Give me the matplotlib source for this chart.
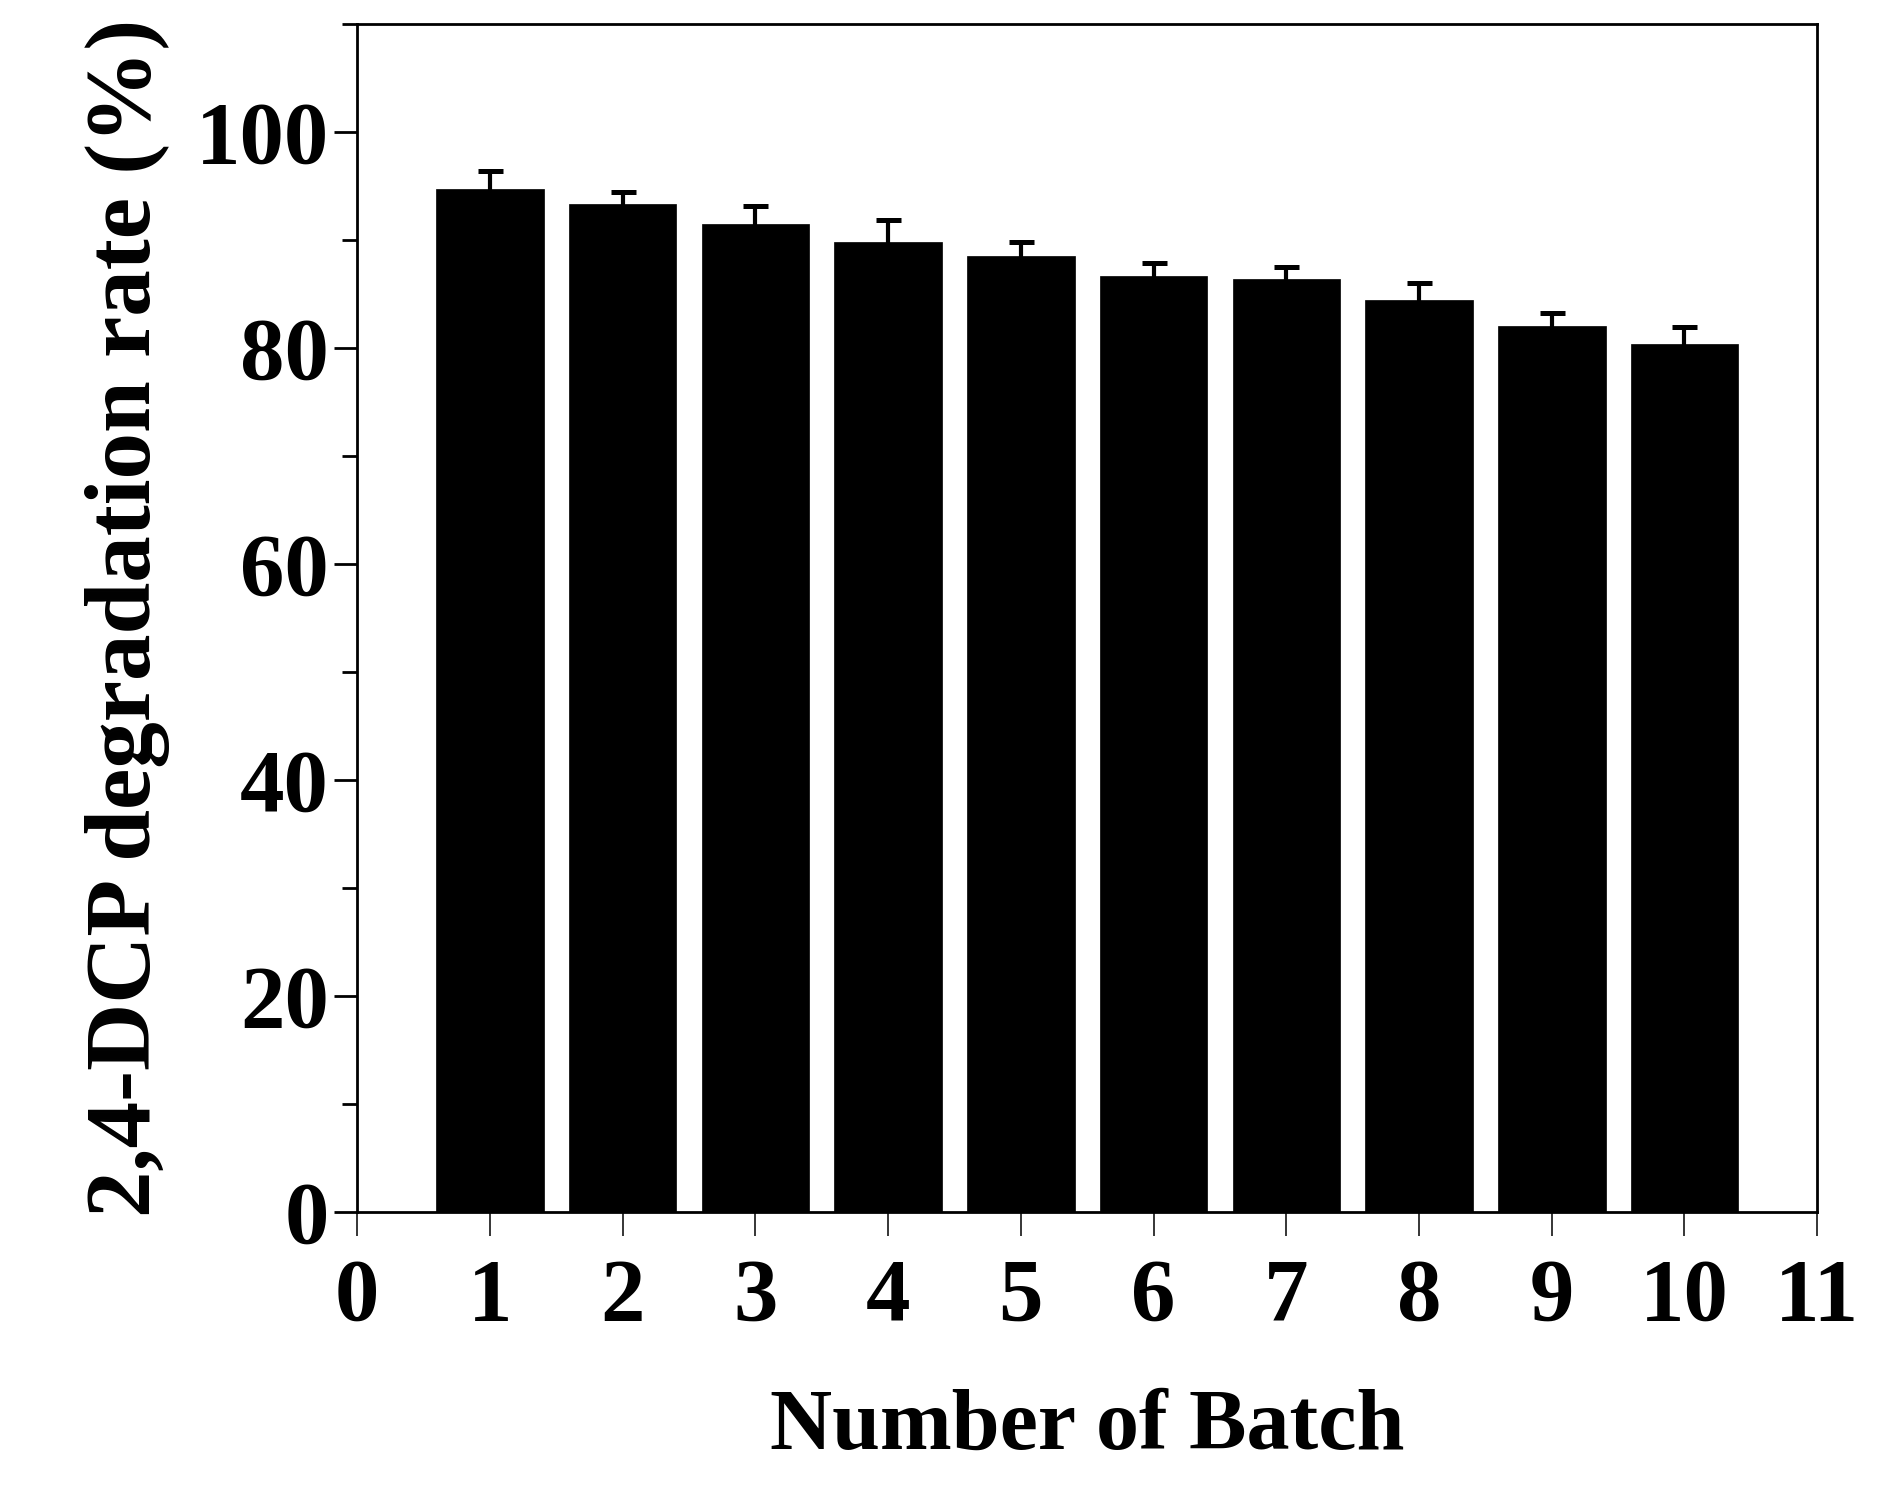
import matplotlib
matplotlib.use("Agg")
from matplotlib import pyplot as plt
from matplotlib.ticker import MultipleLocator

# batch number vs 2,4-DCP degradation (%), upper error only
batches = [1, 2, 3, 4, 5, 6, 7, 8, 9, 10]
rates = [94.7, 93.3, 91.5, 89.8, 88.5, 86.7, 86.4, 84.4, 82.0, 80.4]
errors = [1.7, 1.1, 1.6, 2.0, 1.3, 1.2, 1.1, 1.6, 1.2, 1.5]

plt.rcParams['font.family'] = ['Liberation Serif', 'DejaVu Serif']
plt.rcParams['font.weight'] = 'bold'

fig = plt.figure(figsize=(18.8, 14.92), dpi=100)
ax = fig.add_axes([0.190, 0.1877, 0.7766, 0.7963])

ax.bar(batches, rates, width=0.81, color="black", edgecolor="black", linewidth=0.5, zorder=2)
# symmetric error bar drawn behind the bars so only the upper half shows
ax.errorbar(batches, rates, yerr=errors, fmt="none", ecolor="black",
            elinewidth=3, capsize=9, capthick=3.6, zorder=1)

ax.set(xlim=[0, 11], ylim=[0, 110])
ax.set_xticks(range(0, 12))
ax.yaxis.set_minor_locator(MultipleLocator(10))
ax.set_yticks([0, 20, 40, 60, 80, 100])

for s in ax.spines.values():
    s.set_linewidth(2)
    s.set_zorder(3)

ax.tick_params(axis="x", which="major", direction="out", length=17, width=1.1,
               labelsize=64, pad=16)
ax.tick_params(axis="y", which="major", direction="out", length=16.5, width=2,
               labelsize=64, pad=4)
ax.tick_params(axis="y", which="minor", direction="out", length=11, width=2)
for lbl in ax.get_xticklabels() + ax.get_yticklabels():
    lbl.set_fontweight("bold")

ax.set_xlabel("Number of Batch", fontsize=62, fontweight="bold", labelpad=36)
ax.set_ylabel("2,4-DCP degradation rate (%)", fontsize=67, fontweight="bold", labelpad=18)

fig.savefig("out.png", dpi=100)
